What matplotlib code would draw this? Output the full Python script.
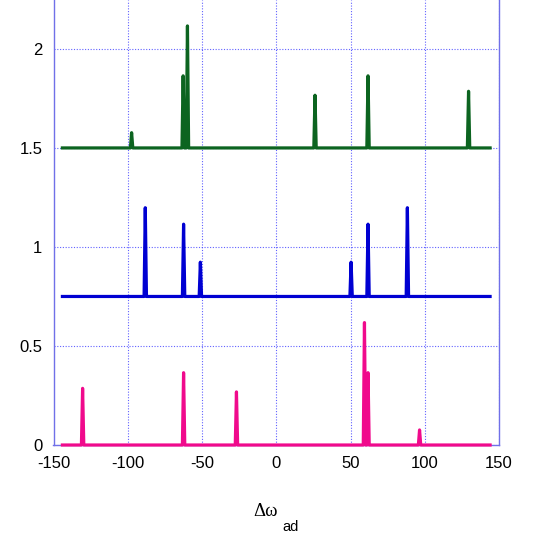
import numpy as np
import matplotlib
matplotlib.use('Agg')
import matplotlib.pyplot as plt

# peak positions / heights
green_pos = [-97.4, -62.7, -59.8, 26.1, 61.8, 129.5]
green_top = [1.577, 1.864, 2.116, 1.766, 1.864, 1.786]
green_base = 1.5

blue_pos = [-88.2, -62.4, -51.1, 50.4, 61.8, 88.3]
blue_top = [1.198, 1.115, 0.923, 0.923, 1.115, 1.198]
blue_base = 0.75

pink_pos = [-130.4, -62.4, -26.8, 59.4, 61.8, 96.5]
pink_top = [0.286, 0.365, 0.268, 0.618, 0.365, 0.076]
pink_base = 0.0

x_start, x_end = -144, 144
half_w = 0.8


def spectrum(pos, top, base):
    # flat baseline with a narrow spike at each peak
    xs = [x_start]
    ys = [base]
    for p, t in sorted(zip(pos, top)):
        xs += [p - half_w, p, p + half_w]
        ys += [base, t, base]
    xs.append(x_end)
    ys.append(base)
    return xs, ys


fig = plt.figure(figsize=(5.45, 5.37), dpi=100)
ax = fig.add_axes([53.5 / 545, (537 - 445) / 537, 445.5 / 545, 445 / 537])

for pos, top, base, col in [(pink_pos, pink_top, pink_base, '#f00a8c'),
                            (blue_pos, blue_top, blue_base, '#0000d2'),
                            (green_pos, green_top, green_base, '#0c6420')]:
    xs, ys = spectrum(pos, top, base)
    ax.plot(xs, ys, color=col, lw=2.3, solid_joinstyle='round', clip_on=False, zorder=3)

ax.set_xlim(-150, 150)
ax.set_ylim(0, 2.247)
ax.set_xticks([-150, -100, -50, 0, 50, 100, 150])
ax.set_xticklabels(['-150', '-100', '-50', '0', '50', '100', '150'])
ax.set_yticks([0, 0.5, 1, 1.5, 2])
ax.set_yticklabels(['0', '0.5', '1', '1.5', '2'])
ax.tick_params(length=0, labelsize=12)
ax.tick_params(axis='x', pad=8)
ax.tick_params(axis='y', pad=8)
for lab in ax.get_xticklabels() + ax.get_yticklabels():
    lab.set_fontfamily('Liberation Sans')
ax.grid(True, color='#3a3aff', lw=0.8, ls=(0, (1, 1.5)), alpha=0.8)
for side in ['left', 'bottom', 'right']:
    ax.spines[side].set_color('#7070e8')
    ax.spines[side].set_linewidth(1.0)
ax.spines['top'].set_visible(False)

fig.text(265 / 545, 1 - 511 / 537, '\u0394\u03c9', fontsize=13.5, family='Liberation Serif',
         ha='center', va='center')
fig.text(291 / 545, 1 - 527 / 537, 'ad', fontsize=10.5, family='Liberation Sans',
         ha='center', va='center')

fig.savefig('out.png', dpi=100)
